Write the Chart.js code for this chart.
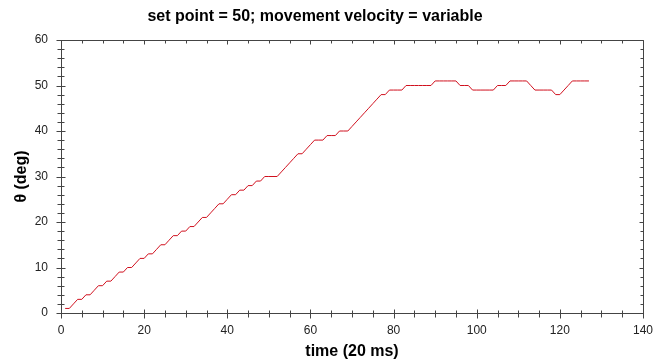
<!DOCTYPE html>
<html>
<head>
<meta charset="utf-8">
<script src="https://cdn.jsdelivr.net/npm/chart.js@4/dist/chart.umd.min.js"></script>
<style>
  body { margin: 0; background: #fff; }
  #wrap { width: 665px; height: 363px; position: relative; }
</style>
</head>
<body>
<div id="wrap"><canvas id="chartOne"></canvas></div>
<script>
var chartTitle = "set point = 50; movement velocity = variable"
var xLabel = "time (20 ms)"
var yLabel = "\u03b8 (deg)"

// time step (x) and angle (y)
var timeSteps = []
for (var i = 1; i <= 127; i++) timeSteps.push(i)

var angles = [
    1, 1, 2, 3, 3, 4, 4, 5, 6, 6,
    7, 7, 8, 9, 9, 10, 10, 11, 12, 12,
    13, 13, 14, 15, 15, 16, 17, 17, 18, 18,
    19, 19, 20, 21, 21, 22, 23, 24, 24, 25,
    26, 26, 27, 27, 28, 28, 29, 29, 30, 30,
    30, 30, 31, 32, 33, 34, 35, 35, 36, 37,
    38, 38, 38, 39, 39, 39, 40, 40, 40, 41,
    42, 43, 44, 45, 46, 47, 48, 48, 49, 49,
    49, 49, 50, 50, 50, 50, 50, 50, 50, 51,
    51, 51, 51, 51, 51, 50, 50, 50, 49, 49,
    49, 49, 49, 49, 50, 50, 50, 51, 51, 51,
    51, 51, 50, 49, 49, 49, 49, 49, 48, 48,
    49, 50, 51, 51, 51, 51, 51
]

var xMin = 0, xMax = 140, xMajor = 20, xMinor = 5
var yMin = 0, yMax = 60, yMajor = 10, yMinor = 2

var points = timeSteps.map(function (t, i) { return { x: t, y: angles[i] } })

// axes, frame and crossing tick marks
var frameTicks = {
    id: "frameTicks",
    beforeDatasetsDraw: function (chart) {
        var ctx = chart.ctx
        var a = chart.chartArea
        var xs = chart.scales.x, ys = chart.scales.y
        var L = Math.round(a.left) + 0.5, R = Math.round(a.right) + 0.5
        var T = Math.round(a.top) + 0.5, B = Math.round(a.bottom) + 0.5
        ctx.save()
        ctx.lineWidth = 1
        ctx.strokeStyle = "#444"
        ctx.beginPath()
        ctx.moveTo(L, T); ctx.lineTo(R, T); ctx.lineTo(R, B); ctx.lineTo(L, B); ctx.closePath()
        ctx.stroke()
        ctx.beginPath()
        for (var v = xMin; v <= xMax; v += xMinor) {
            var px = Math.round(xs.getPixelForValue(v)) + 0.5
            var len = v % xMajor === 0 ? 4 : 3
            ctx.moveTo(px, B - len); ctx.lineTo(px, B + len + 1)
            ctx.moveTo(px, T); ctx.lineTo(px, T + len)
        }
        for (var w = yMin; w <= yMax; w += yMinor) {
            var py = Math.round(ys.getPixelForValue(w)) + 0.5
            var ln = w % yMajor === 0 ? 4 : 3
            ctx.moveTo(L - ln - 1, py); ctx.lineTo(L + ln, py)
            ctx.moveTo(R, py); ctx.lineTo(R - ln, py)
        }
        ctx.stroke()
        ctx.restore()
    },
    afterDraw: function (chart) {
        var ctx = chart.ctx
        ctx.save()
        ctx.fillStyle = "#000"
        ctx.font = "bold 16px 'Liberation Sans', Arial, sans-serif"
        ctx.textAlign = "center"
        ctx.textBaseline = "middle"
        ctx.fillText(chartTitle, 315, 17)
        ctx.restore()
    }
}

var chartOne = new Chart(document.getElementById("chartOne"), {
    type: "line",
    data: {
        datasets: [{
            data: points,
            borderColor: "#d0101e",
            borderWidth: 1,
            pointRadius: 0,
            tension: 0,
            fill: false
        }]
    },
    options: {
        responsive: true,
        maintainAspectRatio: false,
        animation: false,
        layout: { padding: { left: 0, right: 22, top: 40, bottom: 0 } },
        plugins: { legend: { display: false }, title: { display: false }, tooltip: { enabled: false } },
        scales: {
            x: {
                type: "linear",
                min: xMin, max: xMax,
                grid: { display: false, drawTicks: false },
                border: { display: false },
                ticks: { stepSize: xMajor, padding: 10, color: "#222", font: { family: "'Liberation Sans', Arial, sans-serif", size: 12 } },
                title: { display: true, text: xLabel, color: "#000", padding: { top: 0, bottom: 2 }, font: { family: "'Liberation Sans', Arial, sans-serif", size: 16, weight: "bold" } },
                afterFit: function (s) { s.height = 50 }
            },
            y: {
                min: yMin, max: yMax,
                grid: { display: false, drawTicks: false },
                border: { display: false },
                ticks: { stepSize: yMajor, padding: 13, color: "#222", font: { family: "'Liberation Sans', Arial, sans-serif", size: 12 } },
                title: { display: true, text: yLabel, color: "#000", padding: { top: 12, bottom: 0 }, font: { family: "'Liberation Sans', Arial, sans-serif", size: 16, weight: "bold" } },
                afterFit: function (s) { s.width = 61 }
            }
        }
    },
    plugins: [frameTicks]
})
</script>
</body>
</html>
